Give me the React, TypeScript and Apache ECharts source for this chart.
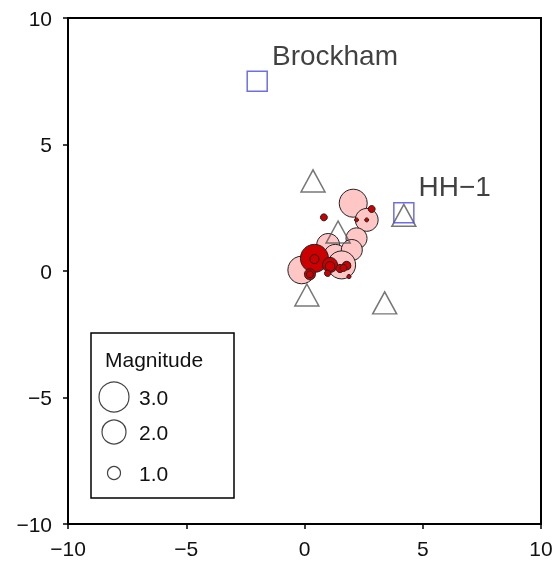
import React, { useEffect, useRef } from "react";
import * as echarts from "echarts";

// ---- data ----
const axisTicks = [-10, -5, 0, 5, 10];

// earlier events [x, y, magnitude]
const earlierEvents: number[][] = [
  [2.06, 2.68, 2.67],
  [2.63, 2.02, 1.9],
  [1.0, 1.03, 1.9],
  [2.2, 1.29, 1.73],
  [1.3, 0.6, 1.9],
  [2.0, 0.83, 1.73],
  [1.57, 0.24, 2.67],
  [-0.12, 0.04, 2.6],
];

// recent events [x, y, magnitude]
const recentEvents: number[][] = [
  [0.42, 0.5, 2.67],
  [0.42, 0.47, 0.64],
  [0.23, -0.13, 0.82],
  [0.23, -0.13, 0.45],
  [1.08, 0.24, 1.18],
  [1.08, 0.18, 0.7],
  [1.5, 0.1, 0.55],
  [1.78, 0.21, 0.6],
  [1.65, 0.12, 0.45],
  [0.98, -0.09, 0.4],
  [1.88, -0.22, 0.2],
  [2.84, 2.45, 0.45],
  [0.82, 2.12, 0.45],
  [2.63, 2.02, 0.18],
  [2.2, 2.02, 0.18],
];

// seismic stations [x, y]
const stations: number[][] = [
  [0.36, 3.56],
  [1.42, 1.54],
  [4.2, 2.2],
  [0.1, -0.95],
  [3.39, -1.26],
];

// sites
const siteNames = ["Brockham", "HH−1"];
const siteCoords: number[][] = [
  [-2.0, 7.5],
  [4.2, 2.3],
];

// legend magnitudes
const legendMags = [3.0, 2.0, 1.0];

// ---- style helpers ----
const sizeStops = [
  [0, 2],
  [1, 13],
  [2, 24],
  [3, 30],
];
function sizeForMag(m: number): number {
  for (let i = 0; i < sizeStops.length - 1; i++) {
    const [m0, s0] = sizeStops[i];
    const [m1, s1] = sizeStops[i + 1];
    if (m <= m1 || i === sizeStops.length - 2) {
      return s0 + ((m - m0) * (s1 - s0)) / (m1 - m0);
    }
  }
  return 2;
}

const FONT = "'Liberation Sans', Arial, Helvetica, sans-serif";
const fmt = (v: number) => String(v).replace("-", "\u2212");

export default function App() {
  const ref = useRef<HTMLDivElement>(null);

  useEffect(() => {
    if (!ref.current) return;
    const chart = echarts.init(ref.current, undefined, { renderer: "svg" });

    const legendX = 91;
    const legendY = 333;
    const legendRowY = [397, 432, 473];

    const legendGraphics: any[] = [
      {
        type: "rect",
        shape: { x: legendX, y: legendY, width: 143, height: 165 },
        style: { fill: "#fff", stroke: "#000", lineWidth: 1.5 },
        z: 10,
      },
      {
        type: "text",
        x: 105,
        y: 359,
        style: {
          text: "Magnitude",
          fontSize: 21,
          fontFamily: FONT,
          fill: "#111",
          verticalAlign: "middle",
        },
        z: 11,
      },
    ];
    legendMags.forEach((m, i) => {
      legendGraphics.push({
        type: "circle",
        shape: { cx: 114, cy: legendRowY[i], r: sizeForMag(m) / 2 },
        style: { fill: "#fff", stroke: "#444", lineWidth: 1.2 },
        z: 11,
      });
      legendGraphics.push({
        type: "text",
        x: 139,
        y: legendRowY[i],
        style: {
          text: m.toFixed(1),
          fontSize: 21,
          fontFamily: FONT,
          fill: "#111",
          verticalAlign: "middle",
        },
        z: 11,
      });
    });

    const axisCommon = {
      type: "value",
      min: -10,
      max: 10,
      interval: 5,
      axisLine: { show: true, onZero: false, lineStyle: { color: "#000", width: 2 } },
      axisTick: { show: true, inside: false, length: 5, lineStyle: { color: "#000", width: 1.5 } },
      splitLine: { show: false },
      axisLabel: {
        show: true,
        color: "#111",
        fontSize: 21,
        fontFamily: FONT,
        formatter: (v: number) => (axisTicks.includes(v) ? fmt(v) : ""),
      },
    };

    chart.setOption({
      animation: false,
      grid: {
        left: 68,
        right: 19,
        top: 18,
        bottom: 43,
        show: true,
        borderColor: "#000",
        borderWidth: 2,
        backgroundColor: "transparent",
      },
      xAxis: { ...axisCommon, axisLabel: { ...axisCommon.axisLabel, margin: 14 } },
      yAxis: { ...axisCommon, axisLabel: { ...axisCommon.axisLabel, margin: 16 } },
      graphic: legendGraphics,
      series: [
        {
          type: "scatter",
          data: earlierEvents,
          symbol: "circle",
          symbolSize: (v: number[]) => sizeForMag(v[2]),
          itemStyle: { color: "#ffc6c6", borderColor: "#222", borderWidth: 1, opacity: 1 },
          silent: true,
          z: 2,
        },
        {
          type: "scatter",
          data: recentEvents,
          symbol: "circle",
          symbolSize: (v: number[]) => sizeForMag(v[2]),
          itemStyle: { color: "#cc0000", borderColor: "#222", borderWidth: 1, opacity: 1 },
          silent: true,
          z: 3,
        },
        {
          type: "scatter",
          data: stations,
          symbol: "triangle",
          symbolSize: [24, 22],
          itemStyle: { color: "rgba(0,0,0,0)", borderColor: "#555", borderWidth: 1.5 },
          silent: true,
          z: 4,
        },
        {
          type: "scatter",
          data: siteCoords.map((c, i) => ({ value: c, name: siteNames[i] })),
          symbol: "rect",
          symbolSize: 20,
          itemStyle: { color: "rgba(0,0,0,0)", borderColor: "#4a4ae0", borderWidth: 1.5 },
          label: {
            show: true,
            position: "right",
            distance: 4,
            offset: [0, -26],
            formatter: (p: any) => p.name,
            fontSize: 28,
            fontFamily: FONT,
            color: "#111",
          },
          silent: true,
          z: 5,
        },
      ],
    });

    return () => chart.dispose();
  }, []);

  return (
    <div
      ref={ref}
      style={{ position: "fixed", left: 0, top: 0, width: 560, height: 567 }}
    />
  );
}
